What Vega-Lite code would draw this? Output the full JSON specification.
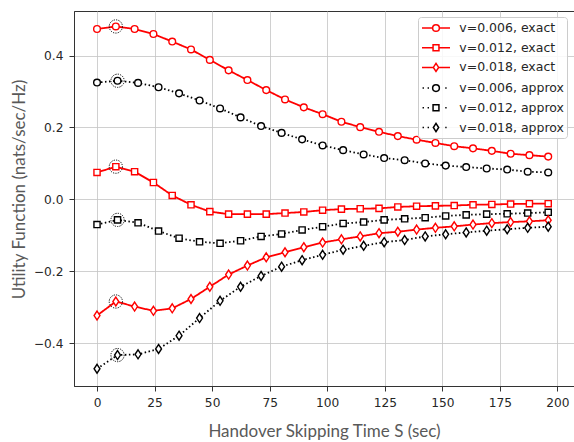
{
 "$schema": "https://vega.github.io/schema/vega-lite/v6.json",
 "width": 500, "height": 375,
 "autosize": {"type": "none"},
 "padding": {"left": 74, "top": 11, "right": 0, "bottom": 56},
 "background": "white",
 "config": {
  "view": {"stroke": "#333333", "strokeWidth": 1},
  "axis": {"domainColor": "#333333", "tickColor": "#333333", "gridColor": "#c4c4c4", "gridWidth": 0.8, "labelFont": "DejaVu Sans", "labelFontSize": 12.2, "labelColor": "#262626", "titleFont": "Lato", "titleFontSize": 17, "titleFontWeight": "normal", "titleColor": "#595959", "tickSize": 5}
 },
 "datasets": {
  "curves": [
   {"s":"v=0.006, exact","x":0,"y":0.474},{"s":"v=0.006, exact","x":8.17,"y":0.481},{"s":"v=0.006, exact","x":16.33,"y":0.474},{"s":"v=0.006, exact","x":24.5,"y":0.46},{"s":"v=0.006, exact","x":32.67,"y":0.439},{"s":"v=0.006, exact","x":40.83,"y":0.417},{"s":"v=0.006, exact","x":49,"y":0.388},{"s":"v=0.006, exact","x":57.17,"y":0.359},{"s":"v=0.006, exact","x":65.33,"y":0.332},{"s":"v=0.006, exact","x":73.5,"y":0.304},{"s":"v=0.006, exact","x":81.67,"y":0.278},{"s":"v=0.006, exact","x":89.83,"y":0.256},{"s":"v=0.006, exact","x":98,"y":0.237},{"s":"v=0.006, exact","x":106.17,"y":0.216},{"s":"v=0.006, exact","x":114.33,"y":0.201},{"s":"v=0.006, exact","x":122.5,"y":0.188},{"s":"v=0.006, exact","x":130.67,"y":0.176},{"s":"v=0.006, exact","x":138.83,"y":0.166},{"s":"v=0.006, exact","x":147,"y":0.157},{"s":"v=0.006, exact","x":155.17,"y":0.148},{"s":"v=0.006, exact","x":163.33,"y":0.142},{"s":"v=0.006, exact","x":171.5,"y":0.135},{"s":"v=0.006, exact","x":179.67,"y":0.127},{"s":"v=0.006, exact","x":187.83,"y":0.123},{"s":"v=0.006, exact","x":196,"y":0.119},
   {"s":"v=0.012, exact","x":0,"y":0.075},{"s":"v=0.012, exact","x":8.17,"y":0.091},{"s":"v=0.012, exact","x":16.33,"y":0.077},{"s":"v=0.012, exact","x":24.5,"y":0.047},{"s":"v=0.012, exact","x":32.67,"y":0.011},{"s":"v=0.012, exact","x":40.83,"y":-0.015},{"s":"v=0.012, exact","x":49,"y":-0.034},{"s":"v=0.012, exact","x":57.17,"y":-0.041},{"s":"v=0.012, exact","x":65.33,"y":-0.041},{"s":"v=0.012, exact","x":73.5,"y":-0.041},{"s":"v=0.012, exact","x":81.67,"y":-0.038},{"s":"v=0.012, exact","x":89.83,"y":-0.035},{"s":"v=0.012, exact","x":98,"y":-0.03},{"s":"v=0.012, exact","x":106.17,"y":-0.027},{"s":"v=0.012, exact","x":114.33,"y":-0.026},{"s":"v=0.012, exact","x":122.5,"y":-0.025},{"s":"v=0.012, exact","x":130.67,"y":-0.021},{"s":"v=0.012, exact","x":138.83,"y":-0.019},{"s":"v=0.012, exact","x":147,"y":-0.018},{"s":"v=0.012, exact","x":155.17,"y":-0.017},{"s":"v=0.012, exact","x":163.33,"y":-0.015},{"s":"v=0.012, exact","x":171.5,"y":-0.014},{"s":"v=0.012, exact","x":179.67,"y":-0.013},{"s":"v=0.012, exact","x":187.83,"y":-0.012},{"s":"v=0.012, exact","x":196,"y":-0.012},
   {"s":"v=0.018, exact","x":0,"y":-0.323},{"s":"v=0.018, exact","x":8.17,"y":-0.284},{"s":"v=0.018, exact","x":16.33,"y":-0.298},{"s":"v=0.018, exact","x":24.5,"y":-0.31},{"s":"v=0.018, exact","x":32.67,"y":-0.303},{"s":"v=0.018, exact","x":40.83,"y":-0.277},{"s":"v=0.018, exact","x":49,"y":-0.243},{"s":"v=0.018, exact","x":57.17,"y":-0.209},{"s":"v=0.018, exact","x":65.33,"y":-0.184},{"s":"v=0.018, exact","x":73.5,"y":-0.161},{"s":"v=0.018, exact","x":81.67,"y":-0.147},{"s":"v=0.018, exact","x":89.83,"y":-0.133},{"s":"v=0.018, exact","x":98,"y":-0.12},{"s":"v=0.018, exact","x":106.17,"y":-0.111},{"s":"v=0.018, exact","x":114.33,"y":-0.103},{"s":"v=0.018, exact","x":122.5,"y":-0.094},{"s":"v=0.018, exact","x":130.67,"y":-0.09},{"s":"v=0.018, exact","x":138.83,"y":-0.084},{"s":"v=0.018, exact","x":147,"y":-0.079},{"s":"v=0.018, exact","x":155.17,"y":-0.075},{"s":"v=0.018, exact","x":163.33,"y":-0.07},{"s":"v=0.018, exact","x":171.5,"y":-0.066},{"s":"v=0.018, exact","x":179.67,"y":-0.063},{"s":"v=0.018, exact","x":187.83,"y":-0.061},{"s":"v=0.018, exact","x":196,"y":-0.058},
   {"s":"v=0.006, approx","x":0,"y":0.325},{"s":"v=0.006, approx","x":8.91,"y":0.33},{"s":"v=0.006, approx","x":17.82,"y":0.324},{"s":"v=0.006, approx","x":26.73,"y":0.312},{"s":"v=0.006, approx","x":35.64,"y":0.295},{"s":"v=0.006, approx","x":44.55,"y":0.275},{"s":"v=0.006, approx","x":53.45,"y":0.253},{"s":"v=0.006, approx","x":62.36,"y":0.228},{"s":"v=0.006, approx","x":71.27,"y":0.204},{"s":"v=0.006, approx","x":80.18,"y":0.185},{"s":"v=0.006, approx","x":89.09,"y":0.167},{"s":"v=0.006, approx","x":98,"y":0.15},{"s":"v=0.006, approx","x":106.91,"y":0.137},{"s":"v=0.006, approx","x":115.82,"y":0.125},{"s":"v=0.006, approx","x":124.73,"y":0.115},{"s":"v=0.006, approx","x":133.64,"y":0.109},{"s":"v=0.006, approx","x":142.55,"y":0.1},{"s":"v=0.006, approx","x":151.45,"y":0.094},{"s":"v=0.006, approx","x":160.36,"y":0.09},{"s":"v=0.006, approx","x":169.27,"y":0.086},{"s":"v=0.006, approx","x":178.18,"y":0.083},{"s":"v=0.006, approx","x":187.09,"y":0.077},{"s":"v=0.006, approx","x":196,"y":0.075},
   {"s":"v=0.012, approx","x":0,"y":-0.07},{"s":"v=0.012, approx","x":8.91,"y":-0.057},{"s":"v=0.012, approx","x":17.82,"y":-0.065},{"s":"v=0.012, approx","x":26.73,"y":-0.088},{"s":"v=0.012, approx","x":35.64,"y":-0.108},{"s":"v=0.012, approx","x":44.55,"y":-0.118},{"s":"v=0.012, approx","x":53.45,"y":-0.122},{"s":"v=0.012, approx","x":62.36,"y":-0.115},{"s":"v=0.012, approx","x":71.27,"y":-0.103},{"s":"v=0.012, approx","x":80.18,"y":-0.096},{"s":"v=0.012, approx","x":89.09,"y":-0.085},{"s":"v=0.012, approx","x":98,"y":-0.076},{"s":"v=0.012, approx","x":106.91,"y":-0.067},{"s":"v=0.012, approx","x":115.82,"y":-0.063},{"s":"v=0.012, approx","x":124.73,"y":-0.057},{"s":"v=0.012, approx","x":133.64,"y":-0.054},{"s":"v=0.012, approx","x":142.55,"y":-0.051},{"s":"v=0.012, approx","x":151.45,"y":-0.046},{"s":"v=0.012, approx","x":160.36,"y":-0.043},{"s":"v=0.012, approx","x":169.27,"y":-0.041},{"s":"v=0.012, approx","x":178.18,"y":-0.04},{"s":"v=0.012, approx","x":187.09,"y":-0.038},{"s":"v=0.012, approx","x":196,"y":-0.036},
   {"s":"v=0.018, approx","x":0,"y":-0.471},{"s":"v=0.018, approx","x":8.91,"y":-0.433},{"s":"v=0.018, approx","x":17.82,"y":-0.431},{"s":"v=0.018, approx","x":26.73,"y":-0.416},{"s":"v=0.018, approx","x":35.64,"y":-0.379},{"s":"v=0.018, approx","x":44.55,"y":-0.33},{"s":"v=0.018, approx","x":53.45,"y":-0.282},{"s":"v=0.018, approx","x":62.36,"y":-0.243},{"s":"v=0.018, approx","x":71.27,"y":-0.213},{"s":"v=0.018, approx","x":80.18,"y":-0.187},{"s":"v=0.018, approx","x":89.09,"y":-0.169},{"s":"v=0.018, approx","x":98,"y":-0.154},{"s":"v=0.018, approx","x":106.91,"y":-0.14},{"s":"v=0.018, approx","x":115.82,"y":-0.129},{"s":"v=0.018, approx","x":124.73,"y":-0.119},{"s":"v=0.018, approx","x":133.64,"y":-0.113},{"s":"v=0.018, approx","x":142.55,"y":-0.103},{"s":"v=0.018, approx","x":151.45,"y":-0.097},{"s":"v=0.018, approx","x":160.36,"y":-0.092},{"s":"v=0.018, approx","x":169.27,"y":-0.087},{"s":"v=0.018, approx","x":178.18,"y":-0.083},{"s":"v=0.018, approx","x":187.09,"y":-0.079},{"s":"v=0.018, approx","x":196,"y":-0.076}
  ]
 },
 "data": {"name": "curves"},
 "encoding": {
  "x": {"field": "x", "type": "quantitative",
   "scale": {"domain": [-10, 207.2], "nice": false, "zero": false},
   "axis": {"values": [0,25,50,75,100,125,150,175,200], "title": "Handover Skipping Time  S (sec)", "labelPadding": 5.5, "titlePadding": 15, "grid": true, "labelFlush": false}},
  "y": {"field": "y", "type": "quantitative",
   "scale": {"domain": [-0.519, 0.524], "nice": false, "zero": false},
   "axis": {"values": [-0.4,-0.2,0,0.2,0.4], "format": ".1f", "title": "Utility Function (nats/sec/Hz)", "labelPadding": 6, "titlePadding": 5, "titleY": 178, "grid": true}},
  "stroke": {"field": "s", "type": "nominal", "scale": {"domain": ["v=0.006, exact","v=0.012, exact","v=0.018, exact","v=0.006, approx","v=0.012, approx","v=0.018, approx"], "range": ["#ff0000","#ff0000","#ff0000","#000000","#000000","#000000"]}}
 },
 "layer": [
  {"mark": {"type": "line", "strokeWidth": 1.8, "strokeCap": "butt"},
   "encoding": {
    "strokeDash": {"field": "s", "type": "nominal", "scale": {"domain": ["v=0.018, approx","v=0.012, approx","v=0.006, approx","v=0.018, exact","v=0.012, exact","v=0.006, exact"], "range": [[1.5,2.5],[1.5,2.5],[1.5,2.5],[1,0],[1,0],[1,0]]}, "legend": null}
   }},
  {"transform": [{"filter": "indexof(datum.s, '0.006') >= 0"}],
   "mark": {"type": "point", "shape": "circle", "size": 45, "filled": false, "fill": "white", "fillOpacity": 1, "opacity": 1, "strokeWidth": 1.4}},
  {"transform": [{"filter": "indexof(datum.s, '0.012') >= 0"}],
   "mark": {"type": "point", "shape": "square", "size": 38, "filled": false, "fill": "white", "fillOpacity": 1, "opacity": 1, "strokeWidth": 1.4}},
  {"transform": [{"filter": "indexof(datum.s, '0.018') >= 0"}],
   "mark": {"type": "point", "shape": "M0,-1L0.66,0L0,1L-0.66,0Z", "size": 80, "filled": false, "fill": "white", "fillOpacity": 1, "opacity": 1, "strokeWidth": 1.4}},
  {"transform": [{"filter": "datum.x > 8 && datum.x < 9.5"}],
   "mark": {"type": "point", "shape": "circle", "size": 175, "stroke": "#000000", "strokeWidth": 1, "strokeDash": [1.2, 1.2], "filled": false, "fill": null, "opacity": 1},
   "encoding": {"stroke": {"value": "#000000"}}},
  {"transform": [{"filter": "false"}],
   "mark": {"type": "point", "filled": false, "opacity": 1, "strokeWidth": 1.5},
   "encoding": {
    "shape": {"field": "s", "type": "nominal",
     "scale": {"domain": ["v=0.006, exact","v=0.012, exact","v=0.018, exact","v=0.006, approx","v=0.012, approx","v=0.018, approx"],
      "range": [
       "M-2,0H-0.48M0.48,0H2M-0.48,0A0.48,0.48,0,1,1,0.48,0A0.48,0.48,0,1,1,-0.48,0Z",
       "M-2,0H-0.42M0.42,0H2M-0.42,-0.42H0.42V0.42H-0.42Z",
       "M-2,0H-0.38M0.38,0H2M0,-0.58L0.38,0L0,0.58L-0.38,0Z",
       "M-1.92,0H-1.72M-1.2,0H-1M1.32,0H1.52M-0.48,0A0.48,0.48,0,1,1,0.48,0A0.48,0.48,0,1,1,-0.48,0Z",
       "M-1.92,0H-1.72M-1.2,0H-1M1.32,0H1.52M-0.42,-0.42H0.42V0.42H-0.42Z",
       "M-1.92,0H-1.72M-1.2,0H-1M1.32,0H1.52M0,-0.58L0.38,0L0,0.58L-0.38,0Z"]},
     "legend": {"orient": "none", "legendX": 344, "legendY": 6, "title": null, "padding": 3, "strokeColor": "#cccccc", "fillColor": "rgba(255,255,255,0.85)", "cornerRadius": 3, "symbolSize": 196, "symbolOffset": 7, "labelOffset": 15.3, "rowPadding": 4.7, "labelFont": "DejaVu Sans", "labelFontSize": 12.5, "labelColor": "#262626", "symbolStrokeWidth": 1.5}
    }
   }}
 ]
}
